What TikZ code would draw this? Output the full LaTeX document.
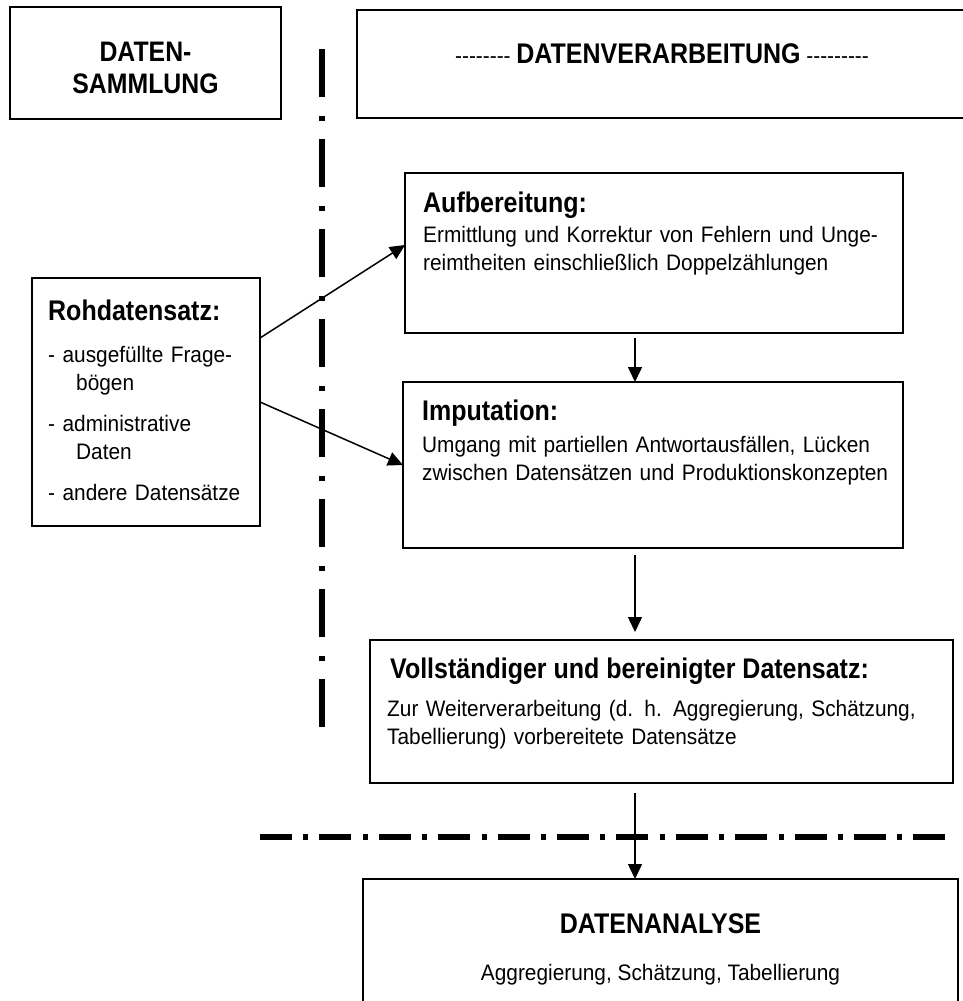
\documentclass[tikz,border=0pt]{standalone}
\usepackage{fontspec}
\setmainfont{Liberation Sans}
\newfontfamily\headfont{Liberation Sans}[FakeStretch=0.88]
\newfontfamily\bodyfont{Liberation Sans}[FakeStretch=0.93]
\usetikzlibrary{arrows.meta}
\newcommand\hy{-\kern0pt}
\begin{document}
\begin{tikzpicture}[x=1pt,y=-1pt,
  box/.style={draw=black, line width=2pt, anchor=north west, outer sep=0pt},
  head/.style={anchor=base west, font=\headfont\bfseries\fontsize{28.4}{32}\selectfont},
  body/.style={anchor=base west, align=left, text width=560pt, font=\bodyfont\fontsize{22.4}{28.5}\selectfont},
  flow/.style={black, line width=1.5pt, -{Triangle[length=15pt,width=14pt]}},
  dashdot/.style={black, line width=6pt}]
\tikzstyle{every node}+=[inner sep=0pt]
\useasboundingbox (0,0) rectangle (963,1001);
\clip (0,0) rectangle (963,1001);
\coordinate (flowx) at (635,0);
\node [box, minimum width=271pt, minimum height=112pt] (samm) at (10,7) {};
\node [align=center, font=\headfont\bfseries\fontsize{28.2}{32}\selectfont] (sammtext) at (145.5,68) {DATEN-\\SAMMLUNG};
\node [box, minimum width=650pt, minimum height=108pt] (verarb) at (357,10) {};
\node [anchor=base, font=\bodyfont\fontsize{22.4}{28}\selectfont] (verarbtext) at (662,63) {\hy\hy\hy\hy\hy\hy\hy- {\headfont\bfseries\fontsize{28.4}{32}\selectfont DATENVERARBEITUNG} \hy\hy\hy\hy\hy\hy\hy\hy-};
\draw [dashdot, dash pattern=on 48pt off 19pt on 5pt off 18pt] (322,49) -- (322,727);
\node [box, minimum width=228pt, minimum height=248pt] (roh) at (32,278) {};
\node [head] (rohhead) at (48,320) {Rohdatensatz:};
\node [body, text width=205pt] (rohbody) at (48,362) {- ausgefüllte Frage-\\\hspace*{28pt}bögen\\[12pt]- administrative\\\hspace*{28pt}Daten\\[12pt]- andere Datensätze};
\node [box, minimum width=498pt, minimum height=160pt] (aufb) at (405,173) {};
\node [head] (aufbhead) at (423,212) {Aufbereitung:};
\node [body] (aufbbody) at (423,242) {Ermittlung und Korrektur von Fehlern und Unge-\\reimtheiten einschließlich Doppelzählungen};
\node [box, minimum width=500pt, minimum height=166pt] (imp) at (403,382) {};
\node [head] (imphead) at (422,420) {Imputation:};
\node [body] (impbody) at (422,452) {Umgang mit partiellen Antwortausfällen, Lücken\\zwischen Datensätzen und Produktionskonzepten};
\node [box, minimum width=583pt, minimum height=143pt] (voll) at (370,640) {};
\node [head] (vollhead) at (390,678) {Vollständiger und bereinigter Datensatz:};
\node [body] (vollbody) at (387,716) {Zur Weiterverarbeitung (d. h. Aggregierung, Schätzung,\\Tabellierung) vorbereitete Datensätze};
\draw [dashdot, dash pattern=on 32pt off 11.4pt on 5pt off 11pt] (260,837) -- (945,837);
\node [box, minimum width=595pt, minimum height=200pt] (ana) at (363,879) {};
\node [head, anchor=base] (anahead) at (660.5,933) {DATENANALYSE};
\node [body, anchor=base, text width=, align=center] (anabody) at (660.5,980) {Aggregierung, Schätzung, Tabellierung};
\draw [flow] ([yshift=64pt]roh.east) -- ([yshift=8pt]aufb.west);
\draw [flow] (roh.east) -- (imp.west);
\draw [flow, shorten <=5pt] (aufb.south -| flowx) -- (imp.north -| flowx);
\draw [flow, shorten <=7pt, shorten >=8pt] (imp.south -| flowx) -- (voll.north -| flowx);
\draw [flow, shorten <=10pt] (voll.south -| flowx) -- (ana.north -| flowx);
\end{tikzpicture}
\end{document}
